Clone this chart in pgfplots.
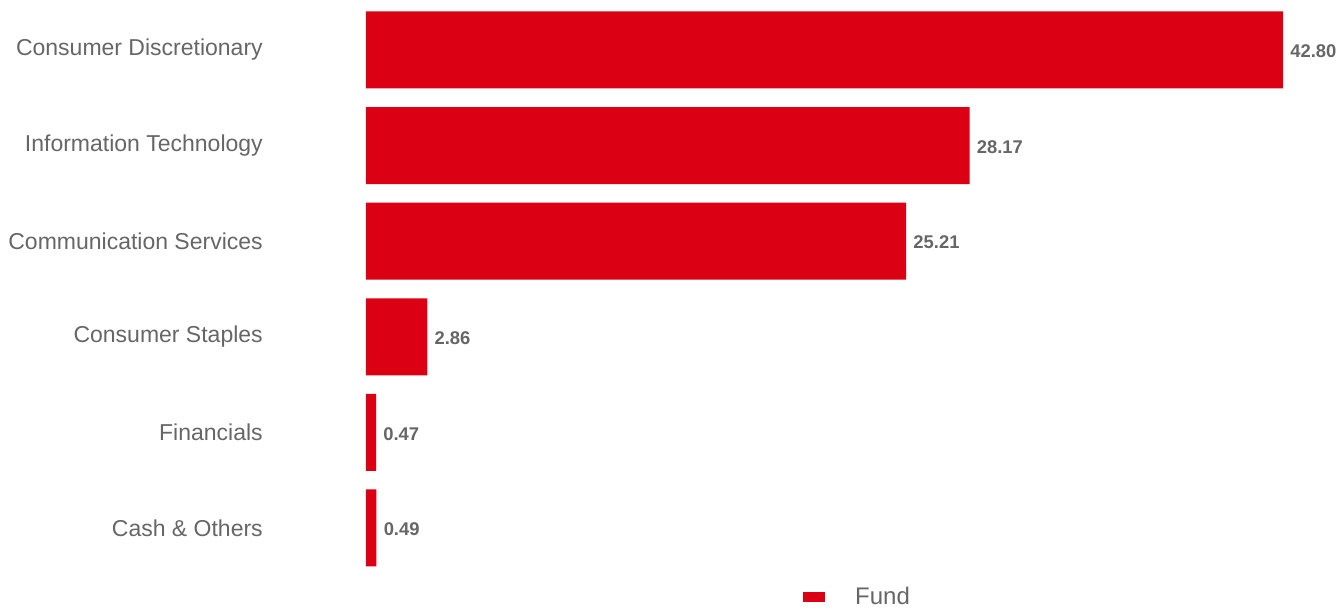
\documentclass[border=0pt]{standalone}
\usepackage{fontspec}
\setmainfont{Liberation Sans}
\usepackage{pgfplots}
\pgfplotsset{compat=1.18}
\definecolor{barred}{RGB}{220,0,20}
\definecolor{txtgrey}{RGB}{102,102,102}
\begin{document}
\begin{tikzpicture}
\begin{axis}[
  x=16.0725pt, y=71.7pt,
  xmin=0, xmax=42.8, ymin=-0.5, ymax=5.5,
  enlargelimits=false,
  clip=false,
  xbar, bar width=57.75pt,
  axis line style={draw=none},
  major tick length=0pt,
  xtick=\empty,
  ytick={0,1,2,3,4,5},
  yticklabels={Cash \& Others, Financials, Consumer Staples, Communication Services, Information Technology, Consumer Discretionary},
  yticklabel style={anchor=east, inner sep=0pt, xshift=-77.25pt, text=txtgrey, font=\fontsize{17.25}{20}\selectfont},
  nodes near coords,
  point meta=x,
  nodes near coords style={/pgf/number format/fixed, /pgf/number format/fixed zerofill, /pgf/number format/precision=2, /pgf/number format/assume math mode=true},
  every node near coord/.append style={anchor=west, inner sep=0pt, xshift=5.25pt, yshift=-1pt, text=txtgrey, font=\fontsize{13.8}{16}\selectfont\bfseries},
  legend style={draw=none, fill=none, inner sep=0pt, at={(axis cs:20.39,-0.722)}, anchor=west,
    nodes={inner sep=0pt, text=txtgrey, font=\fontsize{18}{20}\selectfont},
    /tikz/every odd column/.append style={column sep=22.5pt}},
  legend image code/.code={\fill[#1] (0pt,-3.75pt) rectangle (16.5pt,3.75pt);},
]
\addplot[fill=barred, draw=none] coordinates {
  (0.49,0) (0.47,1) (2.86,2) (25.21,3) (28.17,4) (42.80,5)
};
\addlegendentry{Fund}
\coordinate (bl) at (axis cs:-17.08,-0.837);
\coordinate (tr) at (axis cs:45.36,5.523);
\end{axis}
\pgfresetboundingbox
\useasboundingbox (bl) rectangle (tr);
\end{tikzpicture}
\end{document}
